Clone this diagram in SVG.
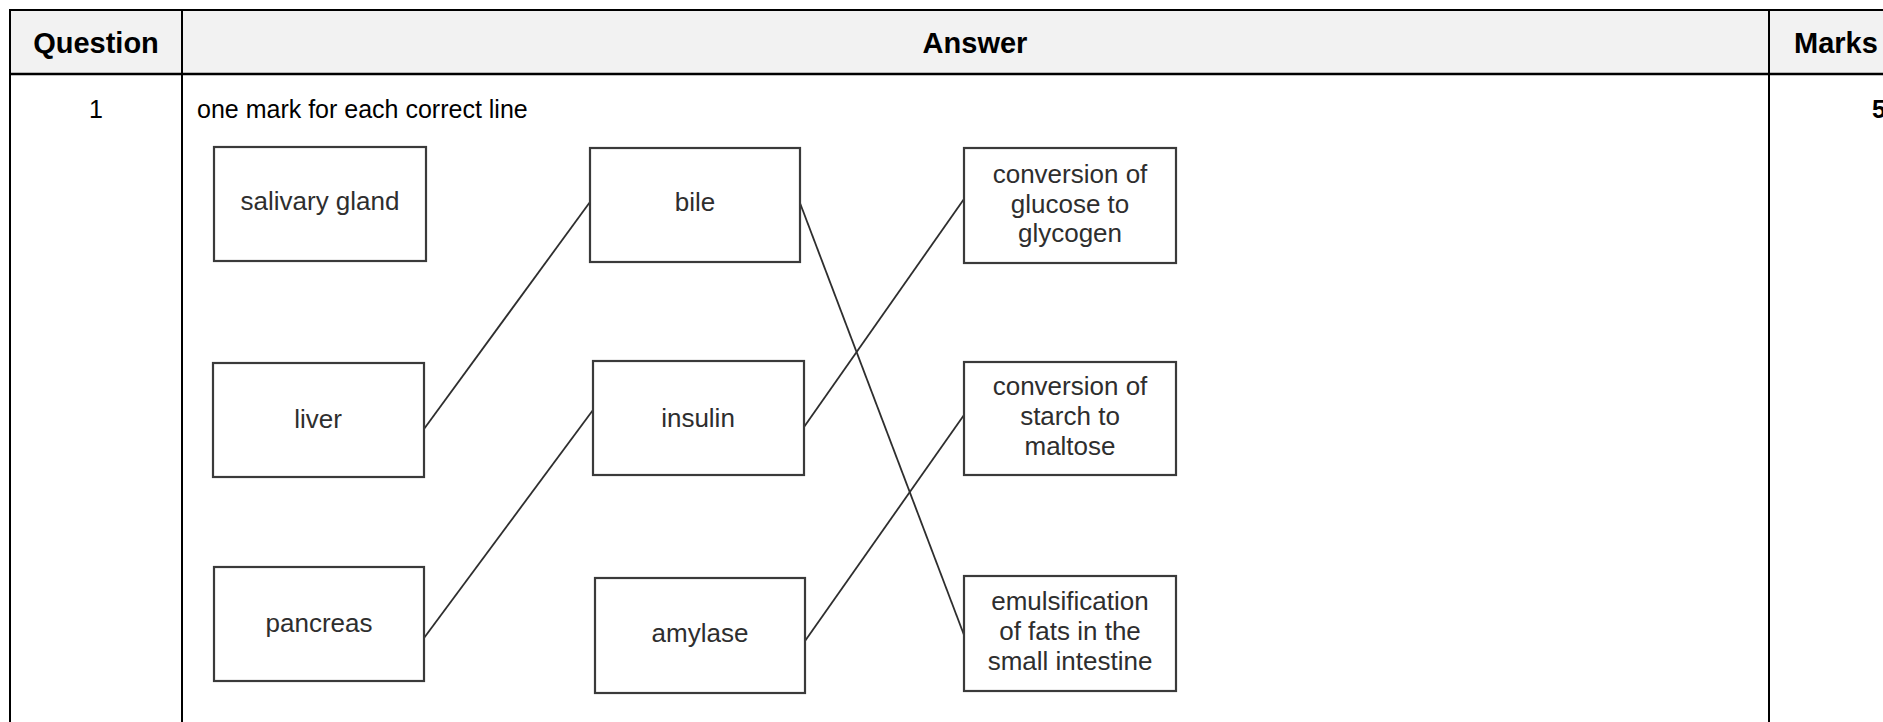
<svg xmlns="http://www.w3.org/2000/svg" width="1883" height="722" viewBox="0 0 1883 722">
<style>
.tbl{stroke:#000;stroke-width:2;fill:none}
.hdr{font-family:"Liberation Sans",Arial,sans-serif;font-weight:bold;font-size:29px;fill:#000}
.cell{font-family:"Liberation Sans",Arial,sans-serif;font-size:25px;fill:#000}
.box rect{fill:#fff;stroke:#3a3a3a;stroke-width:2.2}
.box text{font-family:"Liberation Sans",Arial,sans-serif;font-size:26px;fill:#2e2e2e;text-anchor:middle}
.conn line{stroke:#2e2e2e;stroke-width:1.8;fill:none}
</style>
<rect x="0" y="0" width="1883" height="722" fill="#fff"/>
<g id="table">
<rect x="10" y="10" width="1880" height="64" fill="#f2f2f2"/>
<line class="tbl" x1="9" y1="10" x2="1883" y2="10"/>
<line class="tbl" x1="10" y1="9" x2="10" y2="722"/>
<line class="tbl" x1="10" y1="74" x2="1883" y2="74" style="stroke-width:2.6"/>
<line class="tbl" x1="182" y1="9" x2="182" y2="722"/>
<line class="tbl" x1="1769" y1="9" x2="1769" y2="722"/>
<text class="hdr" x="96" y="53" text-anchor="middle">Question</text>
<text class="hdr" x="975" y="53" text-anchor="middle">Answer</text>
<text class="hdr" x="1794" y="53">Marks</text>
<text class="cell" x="96" y="118" text-anchor="middle">1</text>
<text class="cell" x="197" y="118">one mark for each correct line</text>
<text class="cell" x="1872" y="118" style="font-weight:bold">5</text>
</g>
<g id="connectors" class="conn">
<line x1="424" y1="429" x2="590" y2="202"/>
<line x1="424" y1="638" x2="593" y2="410"/>
<line x1="800" y1="203" x2="964" y2="635"/>
<line x1="804" y1="427" x2="964" y2="199"/>
<line x1="805" y1="641" x2="964" y2="415"/>
</g>
<g id="salivary-gland" class="box"><rect x="214" y="147" width="212" height="114"/><text x="320" y="210">salivary gland</text></g>
<g id="liver" class="box"><rect x="213" y="363" width="211" height="114"/><text x="318" y="428">liver</text></g>
<g id="pancreas" class="box"><rect x="214" y="567" width="210" height="114"/><text x="319" y="632">pancreas</text></g>
<g id="bile" class="box"><rect x="590" y="148" width="210" height="114"/><text x="695" y="211">bile</text></g>
<g id="insulin" class="box"><rect x="593" y="361" width="211" height="114"/><text x="698" y="427">insulin</text></g>
<g id="amylase" class="box"><rect x="595" y="578" width="210" height="115"/><text x="700" y="642">amylase</text></g>
<g id="glucose-glycogen" class="box"><rect x="964" y="148" width="212" height="115"/><text x="1070" y="183">conversion of</text><text x="1070" y="212.5">glucose to</text><text x="1070" y="242">glycogen</text></g>
<g id="starch-maltose" class="box"><rect x="964" y="362" width="212" height="113"/><text x="1070" y="395">conversion of</text><text x="1070" y="425">starch to</text><text x="1070" y="455">maltose</text></g>
<g id="emulsification" class="box"><rect x="964" y="576" width="212" height="115"/><text x="1070" y="610">emulsification</text><text x="1070" y="640">of fats in the</text><text x="1070" y="670">small intestine</text></g>
</svg>
